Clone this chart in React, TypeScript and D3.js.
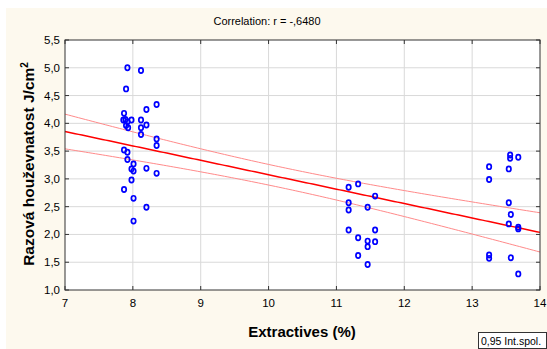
import React, { useEffect, useRef } from 'react';
import * as d3 from 'd3';

// extractives (%) vs. impact toughness
const extractives = [
  7.92, 8.12, 7.9, 8.35, 8.2, 7.87, 7.86, 7.89, 7.92, 7.98, 8.12, 7.9, 7.93, 8.12, 8.2,
  8.12, 8.35, 8.35, 7.87, 7.92, 7.92, 8.01, 7.98, 8.01, 8.2, 8.35, 7.98, 7.87, 8.01, 8.2, 8.01,
  11.18, 11.32, 11.57, 11.18, 11.18, 11.46, 11.18, 11.57, 11.32, 11.46, 11.46, 11.57, 11.32, 11.46,
  13.56, 13.56, 13.68, 13.25, 13.54, 13.25, 13.54, 13.57, 13.54, 13.68, 13.68, 13.25, 13.25, 13.57, 13.68,
];
const toughness = [
  5.0, 4.95, 4.62, 4.34, 4.25, 4.18, 4.06, 4.07, 4.03, 4.06, 4.06, 3.96, 3.92, 3.92, 3.97,
  3.8, 3.72, 3.6, 3.52, 3.48, 3.35, 3.27, 3.18, 3.14, 3.19, 3.1, 2.98, 2.81, 2.65, 2.49, 2.24,
  2.85, 2.91, 2.69, 2.57, 2.44, 2.49, 2.08, 2.08, 1.94, 1.88, 1.78, 1.87, 1.62, 1.46,
  3.43, 3.37, 3.39, 3.22, 3.18, 2.99, 2.57, 2.36, 2.19, 2.13, 2.1, 1.63, 1.57, 1.58, 1.29,
];
const xTicks = [7, 8, 9, 10, 11, 12, 13, 14];
const yTicks = [1.0, 1.5, 2.0, 2.5, 3.0, 3.5, 4.0, 4.5, 5.0, 5.5];
const title = 'Correlation: r = -,6480';
const xLabel = 'Extractives (%)';
const yLabel = 'Razová houževnatost  J/cm';
const legendLabel = '0,95 Int.spol.';
const tCrit = 2.0017; // t(0.975, df = 58)

const W = 547;
const H = 349;

export default function App() {
  const ref = useRef<SVGSVGElement>(null);

  useEffect(() => {
    if (!ref.current) return;
    const svg = d3.select(ref.current);
    svg.selectAll('*').remove();

    const m = { left: 65, right: 540, top: 40, bottom: 290 };
    const x = d3.scaleLinear().domain([7, 14]).range([m.left, m.right]);
    const y = d3.scaleLinear().domain([1, 5.5]).range([m.bottom, m.top]);
    const font = '"Liberation Sans", Arial, sans-serif';

    svg.append('rect').attr('x', 6).attr('y', 8).attr('width', W - 6).attr('height', H - 8).attr('fill', '#fdf9ee');
    svg.append('rect')
      .attr('x', m.left).attr('y', m.top)
      .attr('width', m.right - m.left).attr('height', m.bottom - m.top)
      .attr('fill', '#fff');

    // grid
    svg.append('g').selectAll('line').data(xTicks.slice(1, -1)).join('line')
      .attr('x1', d => x(d)).attr('x2', d => x(d)).attr('y1', m.top).attr('y2', m.bottom)
      .attr('stroke', '#d9d9d9').attr('stroke-width', 1);
    svg.append('g').selectAll('line').data(yTicks.slice(1, -1)).join('line')
      .attr('y1', d => y(d)).attr('y2', d => y(d)).attr('x1', m.left).attr('x2', m.right)
      .attr('stroke', '#d9d9d9').attr('stroke-width', 1);

    // regression + 95% confidence band
    const n = extractives.length;
    const mx = d3.mean(extractives)!;
    const my = d3.mean(toughness)!;
    let sxx = 0, sxy = 0;
    for (let i = 0; i < n; i++) {
      sxx += (extractives[i] - mx) ** 2;
      sxy += (extractives[i] - mx) * (toughness[i] - my);
    }
    const b = sxy / sxx;
    const a = my - b * mx;
    let sse = 0;
    for (let i = 0; i < n; i++) sse += (toughness[i] - a - b * extractives[i]) ** 2;
    const s = Math.sqrt(sse / (n - 2));
    const xs = d3.range(7, 14.001, 0.05);
    const half = (v: number) => tCrit * s * Math.sqrt(1 / n + (v - mx) ** 2 / sxx);
    const line = d3.line<number>().x(d => x(d));

    svg.append('path').attr('d', line.y(d => y(a + b * d + half(d)))(xs))
      .attr('fill', 'none').attr('stroke', '#ff8a8a').attr('stroke-width', 1);
    svg.append('path').attr('d', line.y(d => y(a + b * d - half(d)))(xs))
      .attr('fill', 'none').attr('stroke', '#ff8a8a').attr('stroke-width', 1);
    svg.append('path').attr('d', line.y(d => y(a + b * d))(xs))
      .attr('fill', 'none').attr('stroke', '#ff0000').attr('stroke-width', 1.5);

    // points
    svg.append('g').selectAll('ellipse').data(extractives).join('ellipse')
      .attr('cx', d => x(d)).attr('cy', (_, i) => y(toughness[i]))
      .attr('rx', 2.2).attr('ry', 2.6)
      .attr('fill', 'none').attr('stroke', '#0000ff').attr('stroke-width', 1.7);

    // frame
    svg.append('rect')
      .attr('x', m.left).attr('y', m.top)
      .attr('width', m.right - m.left).attr('height', m.bottom - m.top)
      .attr('fill', 'none').attr('stroke', '#333').attr('stroke-width', 1);

    // ticks
    svg.append('g').selectAll('line').data(xTicks).join('line')
      .attr('x1', d => x(d)).attr('x2', d => x(d)).attr('y1', m.bottom).attr('y2', m.bottom - 4)
      .attr('stroke', '#333');
    svg.append('g').selectAll('line').data(xTicks).join('line')
      .attr('x1', d => x(d)).attr('x2', d => x(d)).attr('y1', m.top).attr('y2', m.top + 4)
      .attr('stroke', '#333');
    svg.append('g').selectAll('line').data(yTicks).join('line')
      .attr('y1', d => y(d)).attr('y2', d => y(d)).attr('x1', m.left).attr('x2', m.left + 4)
      .attr('stroke', '#333');
    svg.append('g').selectAll('line').data(yTicks).join('line')
      .attr('y1', d => y(d)).attr('y2', d => y(d)).attr('x1', m.right).attr('x2', m.right - 4)
      .attr('stroke', '#333');

    const fmt = (v: number) => v.toFixed(1).replace('.', ',');
    svg.append('g').selectAll('text').data(xTicks).join('text')
      .attr('x', d => x(d)).attr('y', m.bottom + 17)
      .attr('text-anchor', 'middle').attr('font-family', font).attr('font-size', 11.5)
      .text(d => String(d));
    svg.append('g').selectAll('text').data(yTicks).join('text')
      .attr('x', m.left - 5).attr('y', d => y(d) + 4)
      .attr('text-anchor', 'end').attr('font-family', font).attr('font-size', 11.5)
      .text(d => fmt(d));

    svg.append('text').attr('x', 267).attr('y', 25)
      .attr('text-anchor', 'middle').attr('font-family', font).attr('font-size', 11)
      .attr('textLength', 107).attr('lengthAdjust', 'spacingAndGlyphs')
      .text(title);

    svg.append('text').attr('x', 302).attr('y', 337)
      .attr('text-anchor', 'middle').attr('font-family', font).attr('font-size', 15)
      .attr('font-weight', 'bold')
      .text(xLabel);

    const yl = svg.append('text')
      .attr('transform', `translate(34,164) rotate(-90)`)
      .attr('text-anchor', 'middle').attr('font-family', font).attr('font-size', 15.5)
      .attr('font-weight', 'bold');
    yl.append('tspan').text(yLabel);
    yl.append('tspan').attr('dy', -6).attr('font-size', 10).text('2');

    // legend
    svg.append('rect').attr('x', 478.5).attr('y', 332.5).attr('width', 68).attr('height', 16)
      .attr('fill', '#fff').attr('stroke', '#333');
    svg.append('text').attr('x', 481).attr('y', 344.5)
      .attr('font-family', font).attr('font-size', 10.5)
      .text(legendLabel);
  }, []);

  return (
    <svg ref={ref} width={W} height={H}
      style={{ position: 'absolute', left: 0, top: 0, display: 'block' }} />
  );
}
